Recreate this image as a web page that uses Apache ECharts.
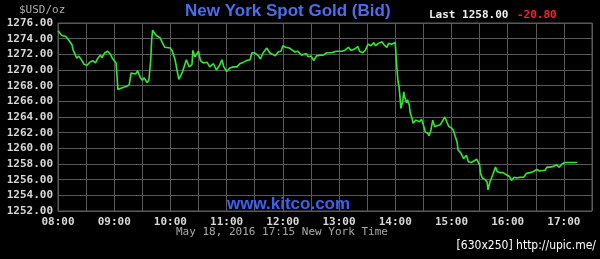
<!DOCTYPE html>
<html><head><meta charset="utf-8">
<script src="https://cdn.jsdelivr.net/npm/echarts@6/dist/echarts.min.js"></script>
<style>html,body{margin:0;padding:0;background:#000;}#c{width:600px;height:259px;}</style>
</head><body><div id="c"></div>
<script>
const times = ["08:00","08:04","08:08","08:11","08:15","08:16","08:18","08:20","08:22","08:25","08:28","08:31","08:34","08:37","08:40","08:42","08:45","08:47","08:50","08:53","08:56","08:58",
"09:00","09:02","09:04","09:06","09:10","09:13","09:16","09:18","09:20","09:23","09:25","09:28","09:30","09:32","09:35","09:37","09:39","09:40","09:41","09:43","09:45","09:49","09:51","09:54",
"10:00","10:02","10:05","10:07","10:09","10:11","10:13","10:17","10:18","10:20","10:23","10:24","10:26","10:30","10:32","10:35","10:39","10:42","10:46","10:49","10:52","10:55","10:57",
"11:00","11:04","11:07","11:11","11:14","11:18","11:21","11:25","11:27","11:30","11:34","11:36","11:39","11:43","11:46","11:48","11:52","11:55","11:58",
"12:00","12:03","12:07","12:09","12:13","12:16","12:20","12:25","12:27","12:30","12:33","12:36","12:40","12:43","12:47","12:52","12:57",
"13:03","13:06","13:10","13:13","13:17","13:20","13:22","13:25","13:28","13:31","13:34","13:37","13:39","13:42","13:46","13:48","13:51","13:53","13:56","13:58",
"14:00","14:01","14:02","14:03","14:04","14:05","14:06","14:08","14:09","14:10","14:12","14:13","14:15","14:16","14:18","14:19","14:22","14:24","14:26","14:28","14:30","14:32","14:35","14:36","14:38","14:40","14:42","14:44","14:48","14:50","14:53","14:55","14:57",
"15:00","15:02","15:04","15:06","15:07","15:10","15:13","15:15","15:16","15:18","15:21","15:23","15:27","15:30","15:31","15:33","15:36","15:38","15:39","15:41","15:44","15:47","15:49","15:52","15:55","15:59",
"16:02","16:04","16:07","16:10","16:13","16:17","16:20","16:24","16:27","16:31","16:34","16:36","16:40","16:42","16:45","16:49","16:52","16:55","16:58",
"17:01","17:07","17:14"];
const prices = [1275.0,1274.4,1274.3,1273.9,1273.2,1272.6,1272.4,1271.5,1271.8,1271.3,1270.7,1270.6,1271.0,1271.2,1270.9,1271.4,1271.9,1271.6,1272.2,1272.4,1272.0,1271.5,
1271.6,1270.9,1267.5,1267.5,1267.8,1267.9,1268.1,1269.6,1269.7,1269.5,1269.9,1269.0,1268.7,1269.0,1268.4,1268.7,1271.3,1273.9,1275.1,1274.7,1274.4,1274.1,1273.6,1272.9,
1272.8,1272.4,1271.3,1270.0,1268.8,1269.0,1269.8,1271.3,1271.5,1270.4,1270.7,1272.5,1271.7,1272.4,1271.2,1270.9,1271.0,1270.4,1270.8,1270.0,1270.5,1271.3,1270.4,
1269.8,1270.3,1270.4,1270.4,1270.8,1271.0,1271.2,1271.3,1272.2,1272.2,1271.8,1271.4,1272.2,1272.8,1272.2,1272.2,1271.8,1272.3,1272.4,
1273.1,1272.9,1272.8,1272.9,1272.3,1272.4,1271.9,1272.1,1271.7,1271.8,1271.2,1271.8,1271.9,1271.9,1272.2,1272.2,1272.4,
1272.4,1272.5,1272.9,1272.5,1272.7,1273.0,1272.4,1272.2,1272.5,1273.3,1273.1,1273.5,1273.1,1273.4,1273.6,1273.2,1272.9,1273.4,1273.3,1273.4,
1273.5,1271.5,1269.8,1268.5,1267.9,1266.6,1265.1,1266.0,1267.2,1266.6,1265.8,1266.2,1265.5,1264.5,1263.8,1263.2,1263.6,1263.8,1263.4,1263.7,1263.0,1262.1,1261.9,1261.6,1262.3,1263.6,1262.8,1262.8,1263.0,1263.4,1264.0,1263.4,1262.8,
1262.6,1262.3,1261.5,1260.8,1259.8,1259.4,1258.7,1258.5,1259.1,1258.3,1258.2,1258.3,1258.6,1257.9,1256.8,1256.2,1256.0,1255.7,1254.7,1255.7,1256.6,1257.6,1257.0,1256.9,1256.9,1256.6,
1256.4,1255.9,1256.3,1256.2,1256.3,1256.3,1256.8,1256.9,1257.0,1257.3,1257.1,1257.3,1257.2,1257.6,1257.6,1257.7,1257.9,1257.6,1258.0,
1258.2,1258.2,1258.2];
const yMin = 1252, yMax = 1276, yStep = 2;
const xStartMin = 480, xEndMin = 1050, xStepMin = 30;
const titleText = "New York Spot Gold (Bid)";
const unitText = "$USD/oz";
const lastText = "Last 1258.00";
const changeText = "-20.80";
const dateText = "May 18, 2016 17:15 New York Time";
const siteText = "www.kitco.com";
const stampText = "[630x250] http://upic.me/";

function toMin(t){const p=t.split(':');return +p[0]*60 + +p[1];}
const seriesData = times.map((t,i)=>[toMin(t), prices[i]]);
const pad=n=>(n<10?'0':'')+n;

const chart = echarts.init(document.getElementById('c'), null, {renderer:'canvas'});
const mono = "'DejaVu Sans Mono', monospace";
chart.setOption({
  backgroundColor:'#000',
  animation:false,
  grid:{left:58,right:8,top:23,bottom:48,show:true,borderColor:'#5a5a5a',borderWidth:1},
  xAxis:{type:'value',min:xStartMin,max:xEndMin,interval:xStepMin,
    axisLine:{show:false},axisTick:{show:false},
    splitLine:{show:true,lineStyle:{color:'#5a5a5a',width:1}},
    axisLabel:{color:'#d8d8d8',fontFamily:mono,fontWeight:'bold',fontSize:11,margin:6,
      formatter:v=> v%60===0 && v<xEndMin ? pad(Math.floor(v/60))+':00' : ''}},
  yAxis:{type:'value',min:yMin,max:yMax,interval:yStep,
    axisLine:{show:false},axisTick:{show:false},
    splitLine:{show:true,lineStyle:{color:'#5a5a5a',width:1}},
    axisLabel:{color:'#d8d8d8',fontFamily:mono,fontWeight:'bold',fontSize:11,margin:5,
      formatter:v=>v.toFixed(2)}},
  graphic:[
    {type:'text',left:19,top:5,style:{text:unitText,fill:'#b0b0b0',font:"11px "+mono}},
    {type:'text',left:185,top:3,style:{text:titleText,fill:'#4e6cf0',font:"bold 17px 'Liberation Sans', Arial, sans-serif"}},
    {type:'text',left:429,top:10,style:{text:lastText,fill:'#f0f0f0',font:"bold 11px "+mono}},
    {type:'text',left:517,top:10,style:{text:changeText,fill:'#ff2020',font:"bold 11px "+mono}},
    {type:'text',left:227,top:196,z:10,style:{text:siteText,fill:'#3d62f0',font:"bold 17px 'Liberation Sans', Arial, sans-serif"}},
    {type:'text',left:176,top:227,style:{text:dateText,fill:'#a8a8a8',font:"11px "+mono}},
    {type:'text',right:4,top:240,style:{text:stampText,fill:'#ffffff',font:"12px 'DejaVu Sans Condensed', sans-serif"}}
  ],
  series:[{type:'line',data:seriesData,showSymbol:false,
    lineStyle:{color:'#33e833',width:1.6},z:5}]
});
</script></body></html>
